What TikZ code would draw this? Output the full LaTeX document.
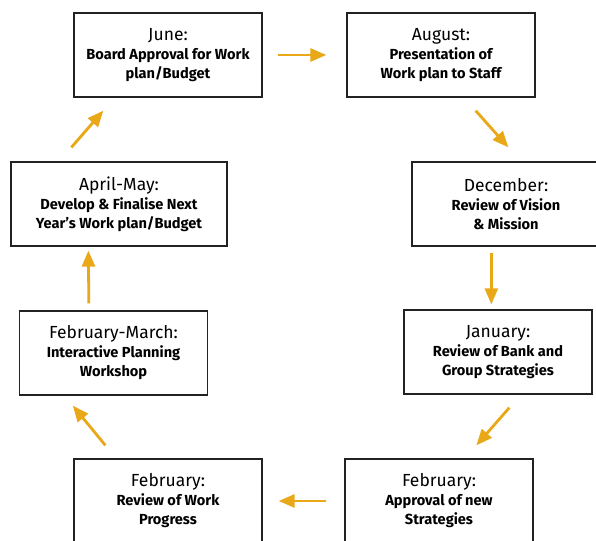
\documentclass[tikz,border=0pt]{standalone}
\usepackage{fontspec}
\setmainfont{Fira Sans}
\usetikzlibrary{arrows.meta,calc}
\definecolor{arrowgold}{HTML}{E8A817}
\definecolor{boxline}{HTML}{222222}
\newcommand{\titlefont}{\fontsize{17.5}{19}\selectfont\mdseries}
\newcommand{\bodyfont}{\fontsize{14.6}{19}\selectfont\bfseries}
\tikzset{
  stagebox/.style={draw=boxline, line width=1.3pt, fill=white, minimum width=188pt,
    minimum height=84pt, inner sep=0pt, align=center, text=black, font=\bodyfont},
  flow/.style={draw=arrowgold, line width=2.8pt,
    -{Triangle[length=16pt,width=13pt]}},
}
\begin{document}
\begin{tikzpicture}[x=1pt,y=-1pt]
\clip (0,0) rectangle (596,540);
\fill[white] (0,0) rectangle (596,540);
\node[stagebox] (june) at (168,55) {\titlefont June:\\Board Approval for Work\\plan/Budget};
\node[stagebox] (aug) at (441,55) {\titlefont August:\\Presentation of\\Work plan to Staff};
\node[stagebox] (dec) at (506,204) {\titlefont December:\\Review of Vision\\\& Mission};
\node[stagebox] (jan) at (498,352) {\titlefont January:\\Review of Bank and\\Group Strategies};
\node[stagebox] (febr) at (439,501) {\titlefont February:\\Approval of new\\Strategies};
\node[stagebox] (febl) at (168,501) {\titlefont February:\\Review of Work\\Progress};
\node[stagebox] (febmar) at (113.5,353) {\titlefont February-March:\\Interactive Planning\\Workshop};
\node[stagebox, minimum width=216pt] (apr) at (119,204) {\titlefont April-May:\\Develop \& Finalise Next\\Year’s Work plan/Budget};
\draw[flow, shorten <=15pt, shorten >=20pt] (june.east) -- (aug.west);
\draw[flow] ($(aug.south east)+(-60,13)$) -- ($(dec.north west)+(97,-14)$);
\draw[flow] ($(dec.south west)+(80,6)$) -- ($(jan.north west)+(88,-5)$);
\draw[flow] ($(jan.south west)+(106,13)$) -- ($(febr.north west)+(132,-13)$);
\draw[flow, shorten <=18pt, shorten >=16pt] (febr.west) -- (febl.east);
\draw[flow] ($(febl.north west)+(32,-13)$) -- ($(febmar.south west)+(54,10)$);
\draw[flow] ($(febmar.north west)+(70,-7)$) -- ($(apr.south west)+(78,4)$);
\draw[flow] ($(apr.north west)+(61,-14)$) -- ($(june.south west)+(30,13)$);
\end{tikzpicture}
\end{document}
